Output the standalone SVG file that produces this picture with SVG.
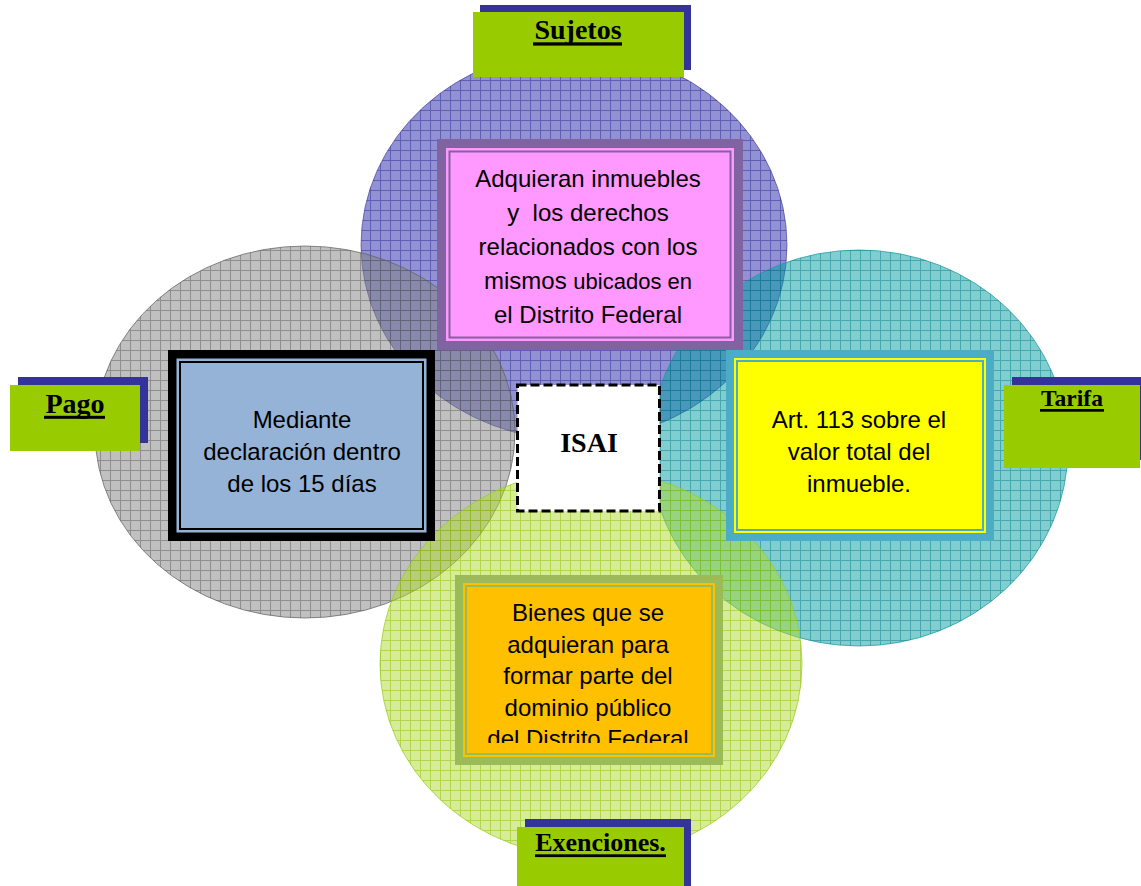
<svg xmlns="http://www.w3.org/2000/svg" width="1141" height="886" viewBox="0 0 1141 886">
<style>
.lbl{font-family:"Liberation Serif","Times New Roman",serif;font-weight:bold;fill:#000;text-anchor:middle}
.body{font-family:"Liberation Sans",Arial,sans-serif;font-size:24px;fill:#000;text-anchor:middle}
.lblbox{fill:#99cc00}
.shadow{fill:#333399}
.ul{fill:#000}
</style>
<defs>
<pattern id="gGray" width="10" height="10" patternUnits="userSpaceOnUse"><path d="M0 .5H10M.5 0V10" stroke="#505050" stroke-width="1" fill="none"/></pattern>
<pattern id="gPurple" width="10" height="10" patternUnits="userSpaceOnUse"><path d="M0 .5H10M.5 0V10" stroke="#202090" stroke-width="1" fill="none"/></pattern>
<pattern id="gTeal" width="10" height="10" patternUnits="userSpaceOnUse"><path d="M0 .5H10M.5 0V10" stroke="#007a84" stroke-width="1" fill="none"/></pattern>
<pattern id="gGreen" width="10" height="10" patternUnits="userSpaceOnUse"><path d="M0 .5H10M.5 0V10" stroke="#88bb00" stroke-width="1" fill="none"/></pattern>
<clipPath id="clipExen"><rect x="455" y="575" width="268" height="168"/></clipPath>
</defs>

<g id="circles">
  <g id="circle-sujetos">
    <ellipse cx="574" cy="245" rx="213" ry="195" fill="#2323a9" fill-opacity="0.5" stroke="#3a3a9a" stroke-opacity="0.6"/>
    <ellipse cx="574" cy="245" rx="213" ry="195" fill="url(#gPurple)" opacity="0.45"/>
  </g>
  <g id="circle-pago">
    <ellipse cx="305" cy="432" rx="210" ry="186" fill="#818181" fill-opacity="0.5" stroke="#606060" stroke-opacity="0.7"/>
    <ellipse cx="305" cy="432" rx="210" ry="186" fill="url(#gGray)" opacity="0.45"/>
  </g>
  <g id="circle-tarifa">
    <ellipse cx="859" cy="448" rx="209" ry="198" fill="#019da1" fill-opacity="0.5" stroke="#1a9aa0" stroke-opacity="0.7"/>
    <ellipse cx="859" cy="448" rx="209" ry="198" fill="url(#gTeal)" opacity="0.45"/>
  </g>
  <g id="circle-exenciones">
    <ellipse cx="591" cy="664" rx="211" ry="194" fill="#add92d" fill-opacity="0.5" stroke="#99cc22" stroke-opacity="0.7"/>
    <ellipse cx="591" cy="664" rx="211" ry="194" fill="url(#gGreen)" opacity="0.45"/>
  </g>
</g>

<g id="connectors"/>

<g id="isai">
  <rect x="517.5" y="385" width="142" height="126" fill="#fff" stroke="#000" stroke-width="3" stroke-dasharray="9 4"/>
  <text class="lbl" x="589" y="452" font-size="28">ISAI</text>
</g>

<g id="box-sujetos">
  <rect x="437" y="139" width="306" height="211" fill="#8064a2"/>
  <rect x="446" y="148" width="288" height="193" fill="#ff99ff"/>
  <rect x="449.5" y="151.5" width="281" height="186" fill="none" stroke="#8064a2" stroke-width="2"/>
  <text class="body" x="588" y="187" font-size="24.5">Adquieran inmuebles</text>
  <text class="body" x="588" y="221" font-size="24.5" xml:space="preserve">y  los derechos</text>
  <text class="body" x="588" y="255" font-size="24.5">relacionados con los</text>
  <text class="body" x="588" y="289" font-size="24.5">mismos <tspan font-size="22">ubicados en</tspan></text>
  <text class="body" x="588" y="323" font-size="24.5">el Distrito Federal</text>
</g>

<g id="box-pago">
  <rect x="168" y="350" width="267" height="191" fill="#000"/>
  <rect x="176.5" y="358.5" width="250" height="174" fill="#95b3d7"/>
  <rect x="180" y="362" width="243" height="167" fill="none" stroke="#000" stroke-width="2"/>
  <text class="body" x="302" y="428">Mediante</text>
  <text class="body" x="302" y="460">declaración dentro</text>
  <text class="body" x="302" y="492">de los 15 días</text>
</g>

<g id="box-tarifa">
  <rect x="726" y="350" width="268" height="191" fill="#4bacc6"/>
  <rect x="734" y="358" width="252" height="175" fill="#ffff00"/>
  <rect x="737" y="361" width="246" height="169" fill="none" stroke="#4bacc6" stroke-width="2"/>
  <text class="body" x="859" y="428">Art. 113 sobre el</text>
  <text class="body" x="859" y="460">valor total del</text>
  <text class="body" x="859" y="492">inmueble.</text>
</g>

<g id="box-exenciones">
  <rect x="455" y="575" width="268" height="190" fill="#9bbb59"/>
  <rect x="463" y="583" width="252" height="174" fill="#ffc000"/>
  <rect x="466" y="586" width="246" height="168" fill="none" stroke="#9bbb59" stroke-width="2"/>
  <g clip-path="url(#clipExen)">
    <text class="body" x="588" y="621">Bienes que se</text>
    <text class="body" x="588" y="652.5">adquieran para</text>
    <text class="body" x="588" y="684">formar parte del</text>
    <text class="body" x="588" y="715.5">dominio público</text>
    <text class="body" x="588" y="747">del Distrito Federal</text>
  </g>
</g>

<g id="label-sujetos">
  <rect class="shadow" x="480" y="5" width="211" height="65"/>
  <rect class="lblbox" x="473" y="12" width="211" height="65"/>
  <text class="lbl" x="578" y="38.5" font-size="28">Sujetos</text>
  <rect class="ul" x="533" y="42.3" width="89" height="3.3"/>
</g>

<g id="label-pago">
  <rect class="shadow" x="18" y="377" width="130" height="66"/>
  <rect class="lblbox" x="10" y="385" width="130" height="66"/>
  <text class="lbl" x="75" y="412.7" font-size="28">Pago</text>
  <rect class="ul" x="44" y="415.8" width="61" height="3"/>
</g>

<g id="label-tarifa">
  <rect class="shadow" x="1012" y="377" width="135" height="83"/>
  <rect class="lblbox" x="1004" y="385" width="136" height="83"/>
  <text class="lbl" x="1072" y="406" font-size="23.5">Tarifa</text>
  <rect class="ul" x="1040" y="409" width="64" height="2.7"/>
</g>

<g id="label-exenciones">
  <rect class="shadow" x="525" y="819" width="166" height="70"/>
  <rect class="lblbox" x="517" y="827" width="167" height="62"/>
  <text class="lbl" x="600.5" y="850.7" font-size="26">Exenciones.</text>
  <rect class="ul" x="535" y="854.3" width="131" height="2.8"/>
</g>
</svg>
